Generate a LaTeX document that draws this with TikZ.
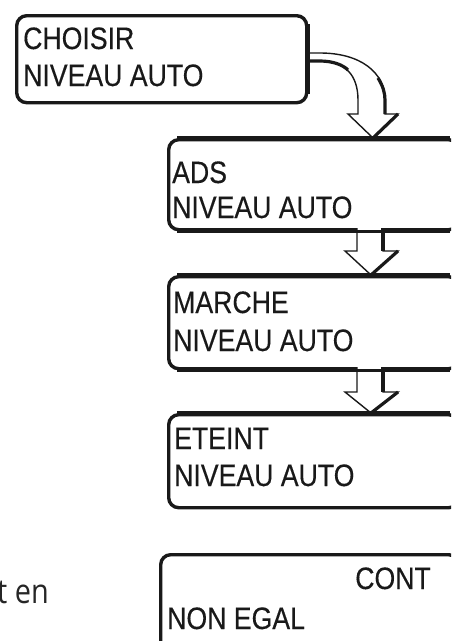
\documentclass[tikz,border=0pt]{standalone}
\usepackage{fontspec}
\newfontfamily\lcdfont[FakeStretch=0.86,FakeBold=0.3]{Liberation Sans}
\newfontfamily\notefont{Open Sans}
\begin{document}
\begin{tikzpicture}[x=1pt,y=-1pt,
  screen/.style={draw=black!90, line width=3.4pt, rounded corners=10pt,
    rectangle, anchor=north west, inner sep=0pt, fill=white},
  lcd/.style={font=\lcdfont\fontsize{31}{31}\selectfont, text=black!90,
    inner sep=0pt, anchor=base west},
  outline/.style={draw=black!90, line width=1.4pt, fill=white, line join=miter},
  shade/.style={draw=black!90, line width=3.2pt, line cap=butt}
]
\useasboundingbox (0,0) rectangle (451,641);
\begin{scope}
\clip (0,0) rectangle (451,641);

% display screens
\node[screen, minimum width=290pt, minimum height=87pt] (b1) at (15,14) {};
\node[screen, minimum width=290pt, minimum height=90pt] (b2) at (167,138) {};
\node[screen, minimum width=290pt, minimum height=92pt] (b3) at (167,275) {};
\node[screen, minimum width=290pt, minimum height=93pt] (b4) at (167,413) {};
\node[screen, minimum width=298pt, minimum height=110pt] (b5) at (159,553) {};

% screen texts
\node[lcd] (t1a) at (23,49) {CHOISIR};
\node[lcd] (t1b) at (23,86) {NIVEAU AUTO};
\node[lcd] (t2a) at (172,183) {ADS};
\node[lcd] (t2b) at (172,218) {NIVEAU AUTO};
\node[lcd] (t3a) at (173,313) {MARCHE};
\node[lcd] (t3b) at (173,351) {NIVEAU AUTO};
\node[lcd] (t4a) at (174,449) {ETEINT};
\node[lcd] (t4b) at (174,486) {NIVEAU AUTO};
\node[lcd, anchor=base east] (t5a) at (431,589) {CONT};
\node[lcd] (t5b) at (167,629) {NON EGAL};

% running text at the left margin
\node[font=\notefont\fontsize{34}{34}\selectfont, text=black!85, inner sep=0pt,
  anchor=base west, xscale=0.85] (note) at (-3,603) {t en};

% curved hollow arrow from the first screen to the second
\path[outline] (b1.east |- 0,53) -- (320,53)
  .. controls (360,53) and (385,72) .. (385,100) -- (385,114)
  -- (398,114) -- (373,138) -- (348,114) -- (358,114) -- (358,100)
  .. controls (358,75) and (345,61) .. (320,61) -- (b1.east |- 0,61);
\draw[shade] (b1.east |- 0,61) -- (320,61) .. controls (333,61) and (343,65) .. (348,70);
\draw[shade] (378,78) .. controls (383,86) and (385,93) .. (385,100) -- (385,114);
\draw[shade] (398,114) -- (373,138);

% straight hollow arrows between the following screens
\path[outline] (357,228) -- (357,251) -- (345,251) -- (371,275)
  -- (398,251) -- (383,251) -- (383,228);
\draw[shade] (383,228) -- (383,251);
\draw[shade] (398,251) -- (371,275);

\path[outline] (357,367) -- (357,392) -- (345,392) -- (371,413)
  -- (398,392) -- (383,392) -- (383,367);
\draw[shade] (383,367) -- (383,392);
\draw[shade] (398,392) -- (371,413);

% screen edges drawn again over the arrow ends
\draw[draw=black!90, line width=3.4pt] ([xshift=10pt]b2.north west) -- ([xshift=-10pt]b2.north east);
\draw[draw=black!90, line width=3.4pt] ([xshift=10pt]b3.north west) -- ([xshift=-10pt]b3.north east);
\draw[draw=black!90, line width=3.4pt] ([xshift=10pt]b4.north west) -- ([xshift=-10pt]b4.north east);
\draw[draw=black!90, line width=3.4pt] ([xshift=10pt]b2.south west) -- ([xshift=-10pt]b2.south east);
\draw[draw=black!90, line width=3.4pt] ([xshift=10pt]b3.south west) -- ([xshift=-10pt]b3.south east);
\draw[draw=black!90, line width=3.4pt] ([yshift=-10pt]b1.north east) -- ([yshift=10pt]b1.south east);
\end{scope}
\end{tikzpicture}
\end{document}
